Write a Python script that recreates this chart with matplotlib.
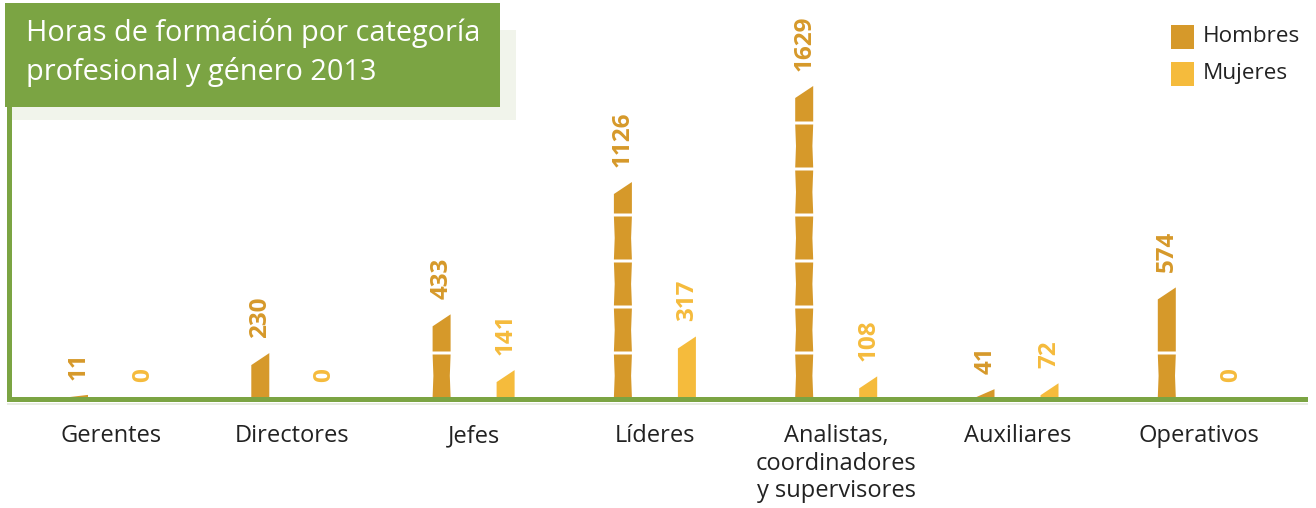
import matplotlib as mpl
mpl.use('Agg')
import matplotlib.pyplot as plt
from matplotlib.patches import Polygon, Rectangle
import numpy as np

plt.rcParams['font.family'] = ['Open Sans', 'DejaVu Sans']

categorias = ['Gerentes', 'Directores', 'Jefes', 'Líderes',
              'Analistas,\ncoordinadores\ny supervisores', 'Auxiliares', 'Operativos']
hombres = [11, 230, 433, 1126, 1629, 41, 574]
mujeres = [0, 0, 141, 317, 108, 72, 0]

C_H = '#D6992A'
C_M = '#F5BB3C'
VERDE = '#7BA443'
SOMBRA = '#F1F4EB'

W, H = 1316, 508
fig = plt.figure(figsize=(W / 100, H / 100), dpi=100)
ax = fig.add_axes([0, 0, 1, 1])

# pixel layout: category i centred at 111 + 181.3*i px, baseline at 397 px
px_x = 181.3
x0_px = 111
base_px = 397
u_px = 1629 / 311.0          # data units per pixel vertically
ax.set_xlim((0 - x0_px) / px_x, (W - x0_px) / px_x)
ax.set_ylim(-(H - base_px) * u_px, base_px * u_px)
ax.axis('off')

def px2x(p):
    return (p - x0_px) / px_x

def px2y(p):
    return (base_px - p) * u_px

bw = 18 / px_x / 2           # half bar width
slant = 12 * u_px
seg = 46 * u_px
first_node = 44 * u_px
gap = 3 * u_px
waist = 0.8 / px_x

def bambu(xc, v, color):
    if v <= 0:
        return
    top_r = v
    top_l = max(v - slant, 0)
    nodes = []
    n = first_node
    while n < top_l - 8 * u_px:
        nodes.append(n)
        n += seg
    bottoms = [0] + [nd + gap / 2 for nd in nodes]
    tops = [nd - gap / 2 for nd in nodes]
    for i, b in enumerate(bottoms):
        if i < len(tops):
            t = tops[i]
            m = (b + t) / 2
            pts = [(xc - bw, b), (xc - bw + waist, m), (xc - bw, t),
                   (xc + bw, t), (xc + bw - waist, m), (xc + bw, b)]
        else:
            pts = [(xc - bw, b), (xc - bw, top_l), (xc + bw, top_r), (xc + bw, b)]
        ax.add_patch(Polygon(pts, closed=True, facecolor=color, edgecolor='none', zorder=3))

off = 32 / px_x
for i, (h, m) in enumerate(zip(hombres, mujeres)):
    for xc, v, col in ((i - off, h, C_H), (i + off, m, C_M)):
        bambu(xc, v, col)
        ax.annotate(str(v), (xc, v), xytext=(0, 11), textcoords='offset points',
                    rotation=90, ha='center', va='bottom', fontsize=17.5,
                    fontweight='bold', color=col, zorder=4)
    ax.text(i, px2y(424), categorias[i], ha='center', va='top', fontsize=17,
            color='#222222', linespacing=1.2)

# axis frame lines
ax.add_patch(Rectangle((px2x(7), px2y(402)), px2x(1308) - px2x(7), 5 * u_px,
                       facecolor=VERDE, edgecolor='none', zorder=5))
ax.add_patch(Rectangle((px2x(7), px2y(405)), px2x(1308) - px2x(7), 2 * u_px,
                       facecolor='#E8ECE2', edgecolor='none', zorder=2))
ax.add_patch(Rectangle((px2x(7), px2y(402)), 5 / px_x, px2y(100) - px2y(402),
                       facecolor=VERDE, edgecolor='none', zorder=5))

# title box with light shadow behind
fig.add_artist(Rectangle((12 / W, 1 - 120 / H), 504 / W, 90 / H,
                         transform=fig.transFigure, facecolor=SOMBRA, edgecolor='none', zorder=6))
fig.add_artist(Rectangle((5 / W, 1 - 107 / H), 495 / W, 104 / H,
                         transform=fig.transFigure, facecolor=VERDE, edgecolor='none', zorder=7))
fig.text(26 / W, 1 - 33 / H, 'Horas de formación por categoría', color='white',
         fontsize=20.8, va='center', ha='left', zorder=8)
fig.text(26 / W, 1 - 72 / H, 'profesional y género 2013', color='white',
         fontsize=20.8, va='center', ha='left', zorder=8)

# legend
for k, (lab, col) in enumerate((('Hombres', C_H), ('Mujeres', C_M))):
    yc = 37 + 37 * k
    fig.add_artist(Rectangle((1171 / W, 1 - (yc + 11.5) / H), 23 / W, 23 / H,
                             transform=fig.transFigure, facecolor=col, edgecolor='none'))
    fig.text(1203 / W, 1 - yc / H, lab, fontsize=16.2, color='#222222', va='center', ha='left')

fig.savefig('out.png', dpi=100)
